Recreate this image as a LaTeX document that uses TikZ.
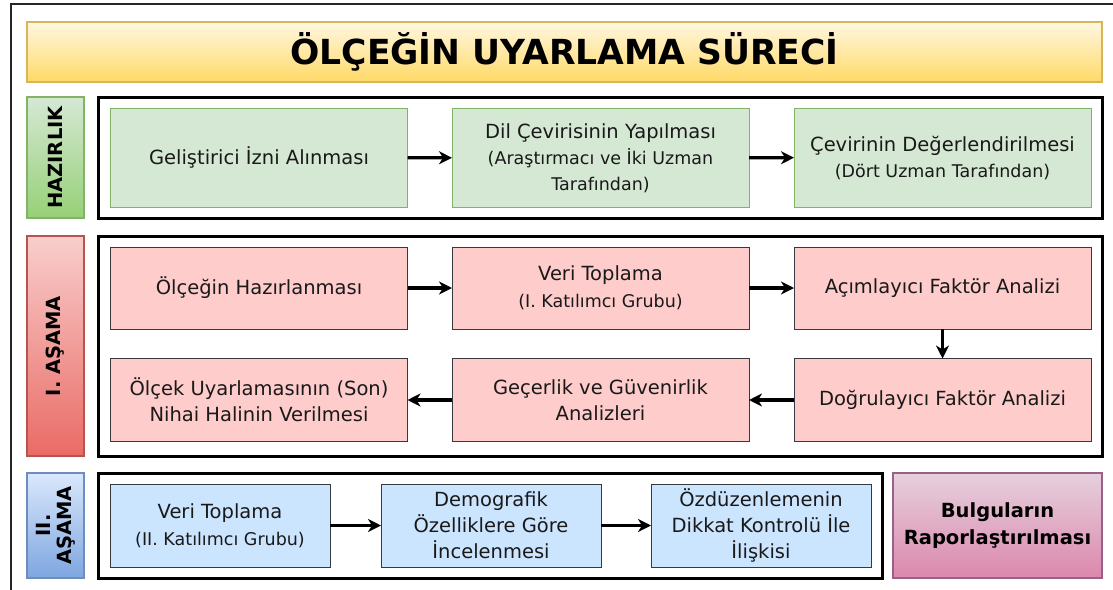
\documentclass[tikz,border=0pt]{standalone}
\usepackage{fontspec}
\setmainfont{DejaVu Sans}
\usetikzlibrary{arrows.meta}
\definecolor{gfill}{HTML}{D5E8D4}
\definecolor{gline}{HTML}{82B366}
\definecolor{gdark}{HTML}{97D077}
\definecolor{rfill}{HTML}{FFCCCC}
\definecolor{rlab}{HTML}{F8CECC}
\definecolor{rdark}{HTML}{EA6B66}
\definecolor{rline}{HTML}{B85450}
\definecolor{bfill}{HTML}{CCE5FF}
\definecolor{blab}{HTML}{DAE8FC}
\definecolor{bdark}{HTML}{7EA6E0}
\definecolor{bline}{HTML}{6C8EBF}
\definecolor{dline}{HTML}{36393D}
\definecolor{yfill}{HTML}{FFF2CC}
\definecolor{ydark}{HTML}{FFD966}
\definecolor{yline}{HTML}{D6B656}
\definecolor{pfill}{HTML}{E6D0DE}
\definecolor{pdark}{HTML}{D5739D}
\definecolor{pline}{HTML}{996185}
\newcommand{\subtx}[1]{{\fontsize{17.5}{26}\selectfont #1}}
\begin{document}
\begin{tikzpicture}[x=1pt,y=-1pt,
  every node/.style={inner sep=0pt, outer sep=0pt, align=center},
  base/.style={font=\fontsize{19.5}{26}\selectfont, text=black!90},
  gbox/.style={base, draw=gline, line width=1pt, fill=gfill, minimum width=297, minimum height=99},
  rbox/.style={base, draw=dline, line width=1pt, fill=rfill, minimum width=297, minimum height=82},
  bbox/.style={base, draw=dline, line width=1pt, fill=bfill, minimum width=220, minimum height=83},
  frame/.style={draw=black, line width=3pt},
  lab/.style={rotate=90, font=\bfseries\fontsize{19.5}{22}\selectfont, line width=1.5pt, minimum height=57},
  arr/.style={line width=3.2pt, -{Stealth[length=13pt,width=13pt,inset=4pt]}}
]
\useasboundingbox (0,0) rectangle (1113,589);
% outer frame
\draw[line width=2.5pt, draw=black!85] (11,4) rectangle (1125,600);
% title
\node[draw=yline, line width=2pt, top color=yfill!60, bottom color=ydark, minimum width=1075, minimum height=60,
  font=\bfseries\fontsize{34.5}{40}\selectfont] (title) at (564.5,52) {ÖLÇEĞİN UYARLAMA SÜRECİ};

% HAZIRLIK
\node[lab, draw=gline, top color=gfill, bottom color=gdark, minimum width=121] (lh) at (55.5,157.5) {HAZIRLIK};
\node[frame, minimum width=1004, minimum height=121] (fh) at (600,157.5) {};
\node[gbox] (h1) at (259,157.5) {Geliştirici İzni Alınması};
\node[gbox] (h2) at (600.5,158) {Dil Çevirisinin Yapılması\\\subtx{(Araştırmacı ve İki Uzman}\\\subtx{Tarafından)}};
\node[gbox] (h3) at (942.5,157.5) {Çevirinin Değerlendirilmesi\\\subtx{(Dört Uzman Tarafından)}};
\draw[arr] (h1) -- (h2);
\draw[arr] (h2) -- (h3);

% I. ASAMA
\node[lab, draw=rline, top color=rlab, bottom color=rdark, minimum width=220] (l1) at (55.5,346) {I. AŞAMA};
\node[frame, minimum width=1004, minimum height=220] (f1) at (600,346) {};
\node[rbox] (a1) at (259,288) {Ölçeğin Hazırlanması};
\node[rbox] (a2) at (600.5,288) {Veri Toplama\\[1pt]\subtx{(I. Katılımcı Grubu)}};
\node[rbox] (a3) at (942.5,288) {Açımlayıcı Faktör Analizi};
\node[rbox, minimum height=83] (a4) at (942.5,400) {Doğrulayıcı Faktör Analizi};
\node[rbox, minimum height=83] (a5) at (600.5,400) {Geçerlik ve Güvenirlik\\Analizleri};
\node[rbox, minimum height=83] (a6) at (259,400) {Ölçek Uyarlamasının (Son)\\Nihai Halinin Verilmesi};
\draw[arr] (a1) -- (a2);
\draw[arr] (a2) -- (a3);
\draw[arr] (a3) -- (a4);
\draw[arr] (a4) -- (a5);
\draw[arr] (a5) -- (a6);

% II. ASAMA
\node[lab, draw=bline, top color=blab, bottom color=bdark, minimum width=105, font=\bfseries\fontsize{19.5}{21}\selectfont] (l2) at (55.5,525.5) {II.\\AŞAMA};
\node[frame, minimum width=784, minimum height=105] (f2) at (490,525.5) {};
\node[bbox] (b1) at (220,525.5) {Veri Toplama\\[1pt]\subtx{(II. Katılımcı Grubu)}};
\node[bbox] (b2) at (491,525.5) {Demografik\\Özelliklere Göre\\İncelenmesi};
\node[bbox] (b3) at (761,525.5) {Özdüzenlemenin\\Dikkat Kontrolü İle\\İlişkisi};
\draw[arr] (b1) -- (b2);
\draw[arr] (b2) -- (b3);

\node[draw=pline, line width=2pt, top color=pfill, bottom color=pdark!85, minimum width=209, minimum height=105,
  font=\bfseries\fontsize{19.5}{27}\selectfont] (rep) at (997.5,525.5) {Bulguların\\Raporlaştırılması};
\end{tikzpicture}
\end{document}
